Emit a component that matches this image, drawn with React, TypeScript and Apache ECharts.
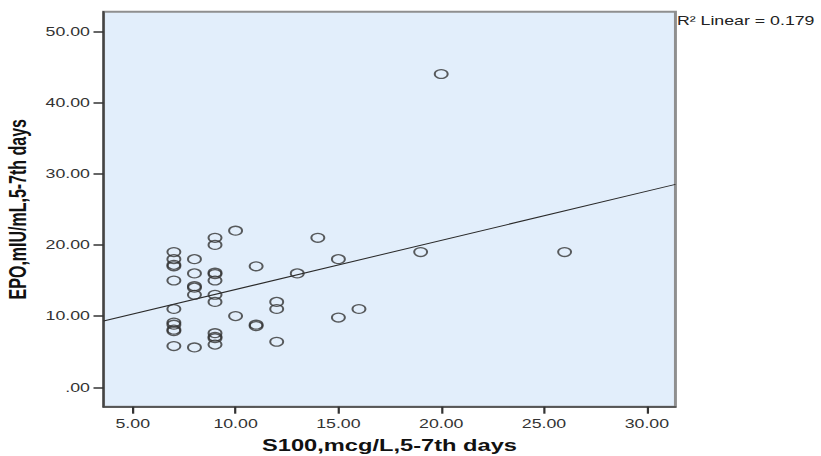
import React, { useEffect, useRef } from "react";
import * as echarts from "echarts";

// S100 (mcg/L) and EPO (mIU/mL), 5-7th days
const s100 = [
  7, 7, 7, 7, 7, 7, 7, 7, 7, 7, 7,
  8, 8, 8, 8, 8, 8,
  9, 9, 9, 9, 9, 9, 9, 9, 9, 9, 9,
  10, 10,
  11, 11, 11,
  12, 12, 12,
  13,
  14,
  15, 15,
  16,
  19,
  20,
  26,
];
const epo = [
  19, 18, 17.2, 17, 15, 11, 9.1, 8.8, 8.1, 7.9, 5.8,
  18, 16, 14.2, 14, 13, 5.6,
  21, 20, 16.1, 15.9, 15, 13, 12, 7.6, 7.1, 6.9, 6.0,
  22, 10,
  17, 8.8, 8.6,
  12, 11, 6.4,
  16,
  21,
  18, 9.8,
  11,
  19,
  44,
  19,
];
const xTicks = [5, 10, 15, 20, 25, 30];
const yTicks = [0, 10, 20, 30, 40, 50];
const xName = "S100,mcg/L,5-7th days";
const yName = "EPO,mIU/mL,5-7th days";
const r2Label = "R\u00B2 Linear = 0.179";

const X_MIN = 3.58;
const X_MAX = 31.39;
const Y_MIN = -2.72;
const Y_MAX = 52.75;

const INNER_W = 555;
const STRETCH = 821 / INNER_W;
const FONT = "'Liberation Sans', Arial, Helvetica, sans-serif";

function fit(xs: number[], ys: number[]) {
  const n = xs.length;
  const mx = xs.reduce((s, v) => s + v, 0) / n;
  const my = ys.reduce((s, v) => s + v, 0) / n;
  let sxy = 0;
  let sxx = 0;
  for (let i = 0; i < n; i++) {
    sxy += (xs[i] - mx) * (ys[i] - my);
    sxx += (xs[i] - mx) * (xs[i] - mx);
  }
  const b = sxy / sxx;
  return { a: my - b * mx, b };
}

export default function App() {
  const ref = useRef<HTMLDivElement>(null);
  useEffect(() => {
    const chart = echarts.init(ref.current!, null, { renderer: "svg" });
    const { a, b } = fit(s100, epo);
    const fmt = (v: number) => (v === 0 ? ".00" : v.toFixed(2));
    chart.setOption({
      animation: false,
      grid: {
        left: 70,
        right: 98.4,
        top: 11.7,
        bottom: 49.3,
        containLabel: false,
        outerBoundsMode: "none",
        show: true,
        backgroundColor: "#E2EEFB",
        borderColor: "#8f8f8f",
        borderWidth: 2,
      },
      xAxis: {
        type: "value",
        min: X_MIN,
        max: X_MAX,
        name: xName,
        nameLocation: "middle",
        nameGap: 31,
        nameTextStyle: { fontFamily: FONT, fontSize: 16, fontWeight: "bold", color: "#111" },
        axisLine: { show: true, onZero: false, lineStyle: { color: "#444", width: 1.5 } },
        axisTick: { show: true, customValues: xTicks, length: 7, lineStyle: { color: "#333", width: 1.5 } },
        axisLabel: { customValues: xTicks, formatter: fmt, margin: 11, fontSize: 12, color: "#333", fontFamily: FONT },
        splitLine: { show: false },
      },
      yAxis: {
        type: "value",
        min: Y_MIN,
        max: Y_MAX,
        name: yName,
        nameLocation: "middle",
        nameGap: 50,
        nameTextStyle: { fontFamily: FONT, fontSize: 16, fontWeight: "bold", color: "#111" },
        axisLine: { show: true, onZero: false, lineStyle: { color: "#444", width: 1.5 } },
        axisTick: { show: true, customValues: yTicks, length: 6.8, lineStyle: { color: "#333", width: 1.5 } },
        axisLabel: { customValues: yTicks, formatter: fmt, margin: 9.2, fontSize: 12, color: "#333", fontFamily: FONT },
        splitLine: { show: false },
      },
      series: [
        {
          type: "line",
          data: [
            [X_MIN, a + b * X_MIN],
            [X_MAX, a + b * X_MAX],
          ],
          showSymbol: false,
          symbol: "none",
          silent: true,
          lineStyle: { color: "#2a2a2a", width: 1 },
          z: 2,
        },
        {
          type: "scatter",
          data: s100.map((x, i) => [x, epo[i]]),
          symbol: "circle",
          symbolSize: 8.8,
          itemStyle: { color: "rgba(0,0,0,0)", borderColor: "#333", borderWidth: 1.3 },
          z: 3,
        },
      ],
      graphic: [
        {
          type: "text",
          left: 457.6,
          top: 15,
          style: { text: r2Label, fontSize: 12, fill: "#222", fontFamily: FONT },
        },
      ],
    });
    return () => chart.dispose();
  }, []);

  return (
    <div style={{ position: "fixed", left: 0, top: 0, width: 821, height: 456, overflow: "hidden", background: "#fff" }}>
      <div
        ref={ref}
        style={{ width: INNER_W, height: 456, transform: `scaleX(${STRETCH})`, transformOrigin: "0 0" }}
      />
    </div>
  );
}
